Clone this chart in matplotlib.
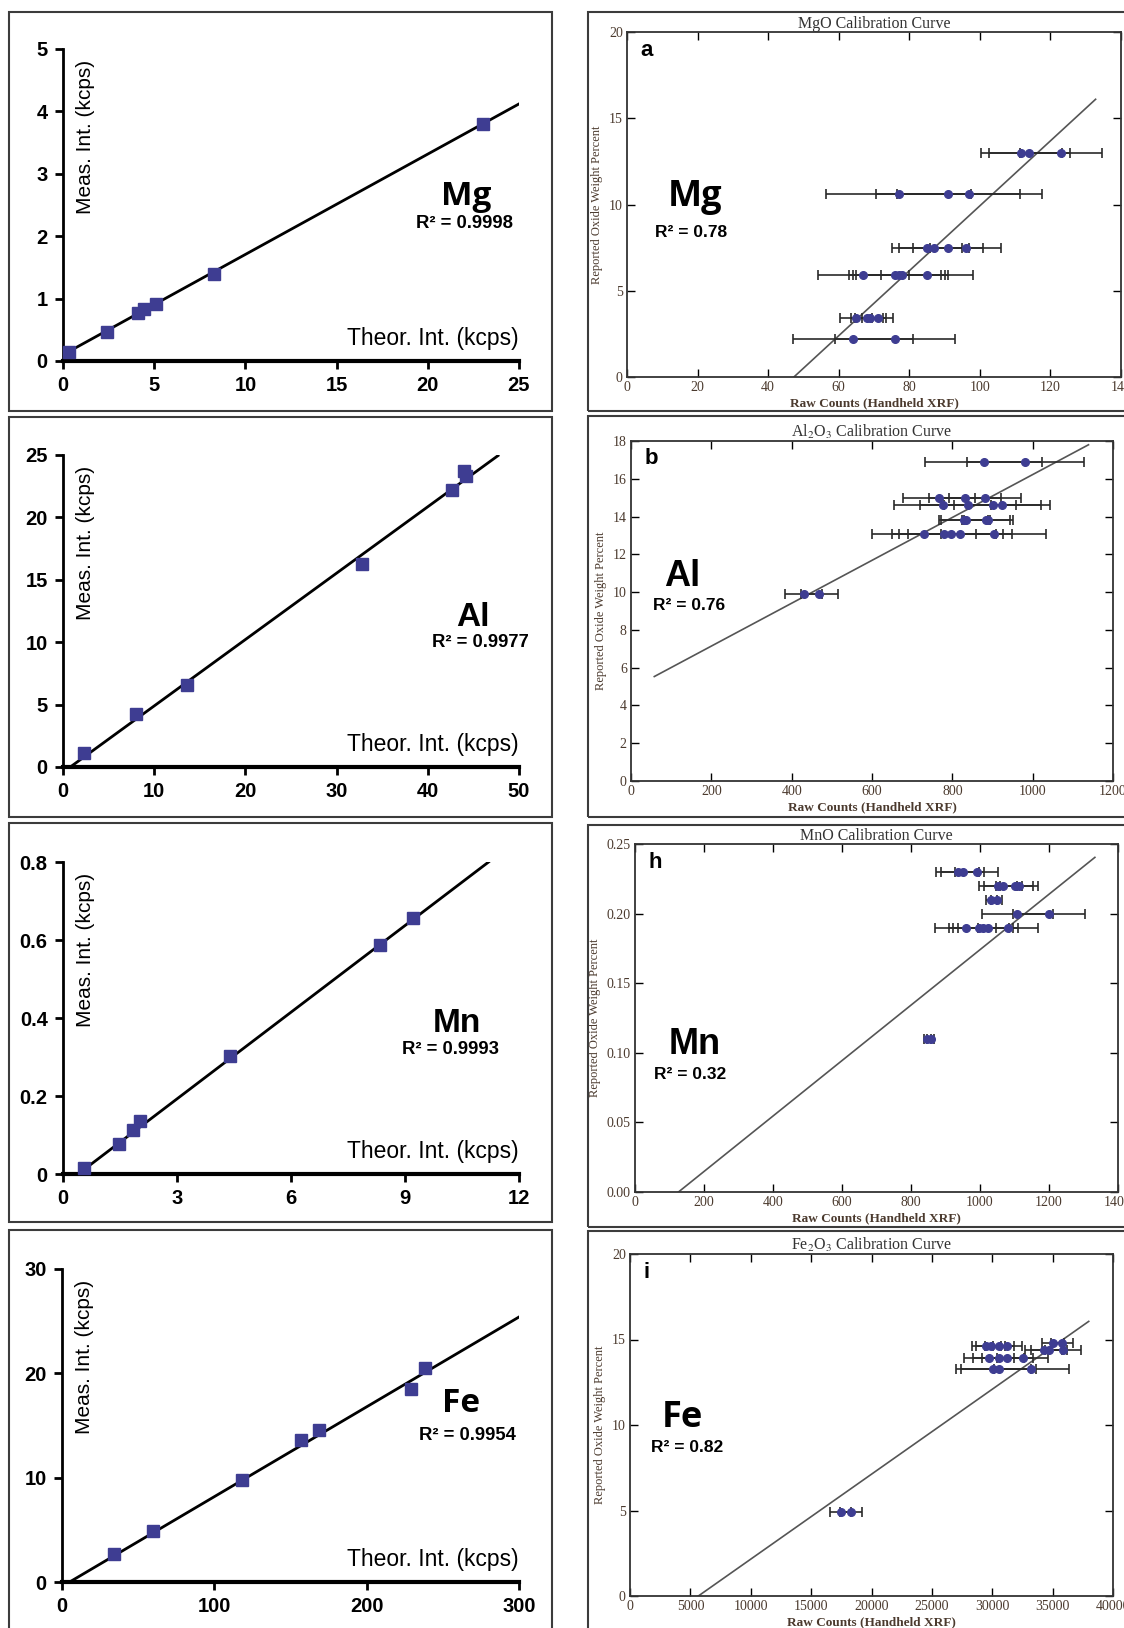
import matplotlib
matplotlib.use('Agg')
import matplotlib.pyplot as plt
from matplotlib.patches import Rectangle

plt.rcParams['mathtext.fontset'] = 'stix'

W, H = 1124, 1628

# ---------------- left column: theoretical vs measured intensity ----------------
mg_theor = [0.35, 2.4, 4.1, 4.45, 5.1, 8.3, 23.0]
mg_meas = [0.15, 0.47, 0.77, 0.84, 0.91, 1.40, 3.80]
mg_fit_x = [0, 25]
mg_fit_y = [0.10, 4.12]

al_theor = [2.35, 8.0, 13.6, 32.8, 42.7, 44.0, 44.2]
al_meas = [1.12, 4.27, 6.56, 16.3, 22.2, 23.7, 23.3]
al_fit_x = [0.8, 47.7]
al_fit_y = [0, 24.95]

mn_theor = [0.55, 1.47, 1.83, 2.03, 4.40, 8.35, 9.20]
mn_meas = [0.016, 0.077, 0.114, 0.136, 0.303, 0.587, 0.657]
mn_fit_x = [0.4, 11.2]
mn_fit_y = [0, 0.8]

fe_theor = [34, 60, 118, 157, 169, 229, 238]
fe_meas = [2.7, 4.9, 9.8, 13.6, 14.6, 18.5, 20.5]
fe_fit_x = [5, 300]
fe_fit_y = [0, 25.4]

# ---------------- right column: handheld XRF calibration curves ----------------
mgo_x = [111.7, 114, 123, 77, 91, 97, 85, 87, 91, 96, 67, 76, 77, 78, 85, 65, 68, 69, 71, 64, 76]
mgo_y = [13.0, 13.0, 13.0, 10.6, 10.6, 10.6, 7.5, 7.5, 7.5, 7.5, 5.9, 5.9, 5.9, 5.9, 5.9,
         3.4, 3.4, 3.4, 3.4, 2.2, 2.2]
mgo_err = [11.5, 11.5, 11.5, 20.5, 20.5, 20.5, 10, 10, 10, 10, 13, 13, 13, 13, 13,
           4.5, 4.5, 4.5, 4.5, 17, 17]
mgo_fit_x = [47.3, 132.8]
mgo_fit_y = [0, 16.1]

alo_x = [878, 982, 767, 831, 882, 776, 839, 900, 923, 828, 833, 884, 890, 730, 779, 796, 819, 903, 430, 469]
alo_y = [16.9, 16.9, 15.0, 15.0, 15.0, 14.6, 14.6, 14.6, 14.6, 13.8, 13.8, 13.8, 13.8,
         13.1, 13.1, 13.1, 13.1, 13.1, 9.9, 9.9]
alo_err = [145, 145, 90, 90, 90, 120, 120, 120, 120, 60, 60, 60, 60, 130, 130, 130, 130, 130, 46, 46]
alo_fit_x = [58, 1139]
alo_fit_y = [5.53, 17.8]

mno_x = [935, 950, 990, 1053, 1066, 1100, 1113, 1033, 1048, 1108, 1200, 958, 998, 1008, 1023, 1081, 847, 857]
mno_y = [0.23, 0.23, 0.23, 0.22, 0.22, 0.22, 0.22, 0.21, 0.21, 0.20, 0.20,
         0.19, 0.19, 0.19, 0.19, 0.19, 0.11, 0.11]
mno_err = [63, 63, 63, 55, 55, 55, 55, 15, 15, 103, 103, 87, 87, 87, 87, 87, 10, 10]
mno_fit_x = [126, 1333]
mno_fit_y = [0, 0.2404]

feo_x = [35030, 35770, 29510, 29880, 30600, 31230, 34250, 34680, 35830,
         29740, 30520, 31240, 32530, 30090, 30520, 33250, 17440, 18300]
feo_y = [14.8, 14.8, 14.6, 14.6, 14.6, 14.6, 14.4, 14.4, 14.4,
         13.9, 13.9, 13.9, 13.9, 13.3, 13.3, 13.3, 4.9, 4.9]
feo_err = [900, 900, 1200, 1200, 1200, 1200, 1500, 1500, 1500,
           2100, 2100, 2100, 2100, 3100, 3100, 3100, 900, 900]
feo_fit_x = [5660, 37990]
feo_fit_y = [0, 16.06]

MARK = '#3e3d92'
SANS = 'Liberation Sans'
CALIBRI = 'Open Sans'
SERIF = 'Liberation Serif'
BROWN = '#4b3a2e'


def px_axes(fig, x0, x1, ytop, ybot):
    # pixel box -> figure fraction
    return fig.add_axes([x0 / W, 1 - ybot / H, (x1 - x0) / W, (ybot - ytop) / H])


def frame(fig, x0, x1, ytop, ybot):
    fig.patches.append(Rectangle((x0 / W, 1 - ybot / H), (x1 - x0) / W, (ybot - ytop) / H,
                                 transform=fig.transFigure, fill=False,
                                 edgecolor='#3c3c3c', linewidth=1.5, zorder=0))


def left_panel(ax, x, y, fx, fy, xticks, yticks, ylabels, elem, r2, elem_xy, r2_xy, efont):
    ax.plot(fx, fy, color='black', linewidth=2, zorder=2)
    ax.plot(x, y, 's', color=MARK, markersize=8.5, zorder=3, clip_on=False)
    ax.set_xlim(xticks[0], xticks[-1])
    ax.set_ylim(yticks[0], yticks[-1])
    ax.set_xticks(xticks)
    ax.set_yticks(yticks)
    ax.set_xticklabels([str(t) for t in xticks], fontfamily=SANS, fontweight='bold', fontsize=14.5)
    ax.set_yticklabels(ylabels, fontfamily=SANS, fontweight='bold', fontsize=14.5)
    for s in ['top', 'right']:
        ax.spines[s].set_visible(False)
    ax.spines['left'].set_linewidth(2)
    ax.spines['bottom'].set_linewidth(3)
    ax.tick_params(direction='out', length=6, width=2, pad=5)
    ax.patch.set_alpha(0)
    ax.text(0.05, 0.965, 'Meas. Int. (kcps)', transform=ax.transAxes, rotation=90,
            ha='center', va='top', fontfamily=SANS, fontsize=15)
    ax.text(1.0, 0.035, 'Theor. Int. (kcps)', transform=ax.transAxes,
            ha='right', va='bottom', fontfamily=SANS, fontsize=16.5)
    ax.text(elem_xy[0], elem_xy[1], elem, ha='center', va='baseline',
            fontfamily=efont, fontweight='bold', fontsize=24)
    ax.text(r2_xy[0], r2_xy[1], r2, ha='center', va='center',
            fontfamily=SANS, fontweight='bold', fontsize=13.3)


def right_panel(ax, x, y, err, fx, fy, xticks, yticks, xlabels, ylabels, title,
                letter, elem, r2, elem_xy, r2_xy, efont):
    ax.plot(fx, fy, color='#555555', linewidth=1.2, zorder=2)
    ax.errorbar(x, y, xerr=err, fmt='none', ecolor='#2a2a2a', elinewidth=1.2,
                capsize=3.5, capthick=1.2, zorder=3)
    ax.plot(x, y, 'o', color=MARK, markersize=5.5, zorder=4)
    ax.set_xlim(xticks[0], xticks[-1])
    ax.set_ylim(yticks[0], yticks[-1])
    ax.set_xticks(xticks)
    ax.set_yticks(yticks)
    ax.set_xticklabels(xlabels, fontfamily=SERIF, fontsize=10, color=BROWN)
    ax.set_yticklabels(ylabels, fontfamily=SERIF, fontsize=10, color=BROWN)
    ax.tick_params(direction='in', length=6, width=1, top=True, right=True, pad=3)
    for s in ax.spines.values():
        s.set_linewidth(1.3)
        s.set_color('#333333')
    ax.set_title(title, fontfamily=SERIF, fontsize=11.5, color='#333333', pad=3)
    ax.set_xlabel('Raw Counts (Handheld XRF)', fontfamily=SERIF, fontweight='bold',
                  fontsize=9.5, color=BROWN, labelpad=2)
    ax.set_ylabel('Reported Oxide Weight Percent', fontfamily=SERIF, fontsize=9,
                  color=BROWN, labelpad=4)
    ax.text(0.028, 0.978, letter, transform=ax.transAxes, ha='left', va='top',
            fontfamily=SANS, fontweight='bold', fontsize=16)
    ax.text(elem_xy[0], elem_xy[1], elem, transform=ax.transAxes, ha='center', va='center',
            fontfamily=efont, fontweight='bold', fontsize=26)
    ax.text(r2_xy[0], r2_xy[1], r2, transform=ax.transAxes, ha='center', va='center',
            fontfamily=SANS, fontweight='bold', fontsize=12.5)


fig = plt.figure(figsize=(W / 100, H / 100), dpi=100)

# panel frames
for top, bot in [(12, 411), (417, 817), (823, 1222), (1230, 1640)]:
    frame(fig, 8.5, 552, top, bot)
for top, bot in [(12, 411), (416, 817), (825, 1227), (1231, 1640)]:
    frame(fig, 588, 1135, top, bot)

# left column
ax = px_axes(fig, 63, 519, 49, 361)
left_panel(ax, mg_theor, mg_meas, mg_fit_x, mg_fit_y, [0, 5, 10, 15, 20, 25], [0, 1, 2, 3, 4, 5],
           ['0', '1', '2', '3', '4', '5'], 'Mg', 'R² = 0.9998', (22.1, 2.50), (22.0, 2.21), CALIBRI)

ax = px_axes(fig, 63, 519, 455, 767)
left_panel(ax, al_theor, al_meas, al_fit_x, al_fit_y, [0, 10, 20, 30, 40, 50], [0, 5, 10, 15, 20, 25],
           ['0', '5', '10', '15', '20', '25'], 'Al', 'R² = 0.9977', (45.0, 11.3), (45.8, 10.0), SANS)

ax = px_axes(fig, 63, 519, 862, 1174)
left_panel(ax, mn_theor, mn_meas, mn_fit_x, mn_fit_y, [0, 3, 6, 9, 12], [0, 0.2, 0.4, 0.6, 0.8],
           ['0', '0.2', '0.4', '0.6', '0.8'], 'Mn', 'R² = 0.9993', (10.37, 0.363), (10.2, 0.318), SANS)

ax = px_axes(fig, 62, 519, 1269, 1582)
left_panel(ax, fe_theor, fe_meas, fe_fit_x, fe_fit_y, [0, 100, 200, 300], [0, 10, 20, 30],
           ['0', '10', '20', '30'], 'Fe', 'R² = 0.9954', (262, 16.3), (266, 14.06), CALIBRI)

# right column
ax = px_axes(fig, 627, 1121, 32, 377)
right_panel(ax, mgo_x, mgo_y, mgo_err, mgo_fit_x, mgo_fit_y,
            [0, 20, 40, 60, 80, 100, 120, 140], [0, 5, 10, 15, 20],
            ['0', '20', '40', '60', '80', '100', '120', '140'], ['0', '5', '10', '15', '20'],
            'MgO Calibration Curve', 'a', 'Mg', 'R² = 0.78', (0.137, 0.523), (0.13, 0.42), CALIBRI)

ax = px_axes(fig, 631, 1113, 441, 781)
right_panel(ax, alo_x, alo_y, alo_err, alo_fit_x, alo_fit_y,
            [0, 200, 400, 600, 800, 1000, 1200], [0, 2, 4, 6, 8, 10, 12, 14, 16, 18],
            ['0', '200', '400', '600', '800', '1000', '1200'],
            ['0', '2', '4', '6', '8', '10', '12', '14', '16', '18'],
            r'Al$_2$O$_3$ Calibration Curve', 'b', 'Al', 'R² = 0.76', (0.106, 0.60), (0.12, 0.515), SANS)

ax = px_axes(fig, 635, 1118, 844, 1192)
right_panel(ax, mno_x, mno_y, mno_err, mno_fit_x, mno_fit_y,
            [0, 200, 400, 600, 800, 1000, 1200, 1400], [0, 0.05, 0.10, 0.15, 0.20, 0.25],
            ['0', '200', '400', '600', '800', '1000', '1200', '1400'],
            ['0.00', '0.05', '0.10', '0.15', '0.20', '0.25'],
            'MnO Calibration Curve', 'h', 'Mn', 'R² = 0.32', (0.124, 0.425), (0.115, 0.338), SANS)

ax = px_axes(fig, 630, 1113, 1254, 1596)
right_panel(ax, feo_x, feo_y, feo_err, feo_fit_x, feo_fit_y,
            [0, 5000, 10000, 15000, 20000, 25000, 30000, 35000, 40000], [0, 5, 10, 15, 20],
            ['0', '5000', '10000', '15000', '20000', '25000', '30000', '35000', '40000'],
            ['0', '5', '10', '15', '20'],
            r'Fe$_2$O$_3$ Calibration Curve', 'i', 'Fe', 'R² = 0.82', (0.109, 0.52), (0.118, 0.434), CALIBRI)

fig.savefig('out.png', dpi=100)
